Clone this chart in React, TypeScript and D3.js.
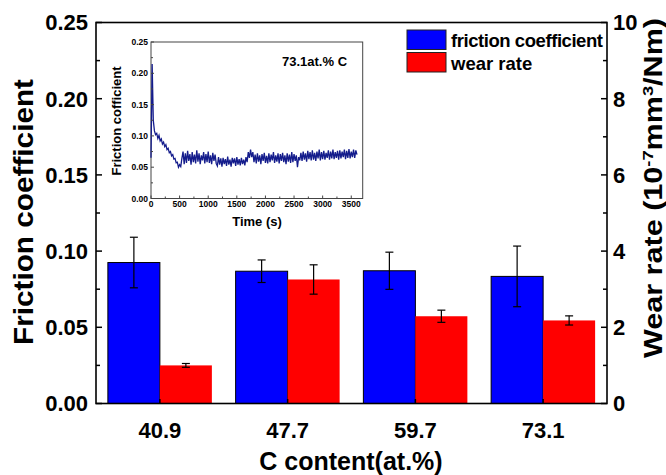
import React from "react";
import * as d3 from "d3";

// ---- Main chart data ----
const categories = ["40.9", "47.7", "59.7", "73.1"];
const frictionMean = [0.0925, 0.0868, 0.0871, 0.0834];
const frictionErr = [0.0166, 0.0074, 0.0122, 0.0199];
const wearMean = [1.0, 3.255, 2.29, 2.18];
const wearErr = [0.05, 0.385, 0.16, 0.12];
const leftTicks = [0, 0.05, 0.1, 0.15, 0.2, 0.25];
const rightTicks = [0, 2, 4, 6, 8, 10];
const legendLabels = ["friction coefficient", "wear rate"];

// ---- Inset data: friction trace of 73.1 at.% C, sampled every 20 s ----
const traceStep = 20;
const frictionTrace = [
  // 0 - 520 s
  0.065, 0.215, 0.125, 0.108, 0.102, 0.104, 0.096, 0.101, 0.092, 0.095,
  0.087, 0.090, 0.083, 0.086, 0.078, 0.080, 0.073, 0.075, 0.068, 0.070,
  0.063, 0.064, 0.057, 0.058, 0.050, 0.054, 0.051,
  // 540 - 1140 s
  0.064, 0.075, 0.055, 0.072, 0.057, 0.076, 0.060, 0.071, 0.054, 0.074,
  0.058, 0.070, 0.056, 0.077, 0.059, 0.072, 0.055, 0.069, 0.061, 0.074,
  0.056, 0.071, 0.058, 0.075, 0.057, 0.069, 0.055, 0.073, 0.060, 0.070,
  0.056,
  // 1160 - 1680 s
  0.052, 0.066, 0.054, 0.064, 0.051, 0.065, 0.055, 0.063, 0.052, 0.067,
  0.054, 0.062, 0.051, 0.065, 0.056, 0.064, 0.052, 0.066, 0.054, 0.063,
  0.053, 0.065, 0.055, 0.062, 0.053, 0.066, 0.058,
  // 1700 - 1780 s
  0.074, 0.065, 0.078, 0.066, 0.074,
  // 1800 - 2540 s
  0.058, 0.070, 0.056, 0.072, 0.059, 0.069, 0.055, 0.071, 0.060, 0.073,
  0.057, 0.068, 0.056, 0.072, 0.058, 0.070, 0.061, 0.074, 0.057, 0.069,
  0.059, 0.072, 0.056, 0.071, 0.060, 0.073, 0.058, 0.069, 0.055, 0.072,
  0.059, 0.070, 0.057, 0.074, 0.058, 0.071, 0.060, 0.069,
  // 2560 - 2580 s
  0.050, 0.066,
  // 2600 - 3600 s
  0.061, 0.073, 0.060, 0.075, 0.062, 0.072, 0.059, 0.076, 0.063, 0.074,
  0.061, 0.077, 0.062, 0.073, 0.060, 0.075, 0.064, 0.078, 0.061, 0.074,
  0.063, 0.076, 0.062, 0.073, 0.065, 0.077, 0.062, 0.075, 0.064, 0.078,
  0.063, 0.074, 0.065, 0.076, 0.062, 0.077, 0.064, 0.075, 0.066, 0.078,
  0.063, 0.076, 0.065, 0.079, 0.064, 0.075, 0.066, 0.078, 0.065, 0.077,
  0.070,
];
const insetXTicks = [0, 500, 1000, 1500, 2000, 2500, 3000, 3500];
const insetYTicks = [0, 0.05, 0.1, 0.15, 0.2, 0.25];

const FONT = "'Liberation Sans', Arial, sans-serif";

export default function App() {
  // main scales
  const x = d3.scaleLinear().domain([-0.5, 3.5]).range([96, 607]);
  const yL = d3.scaleLinear().domain([0, 0.25]).range([403.5, 22.5]);
  const yR = d3.scaleLinear().domain([0, 10]).range([403.5, 22.5]);
  const barW = x(0.407) - x(0);

  // inset scales
  const ix = d3.scaleLinear().domain([0, 3700]).range([151, 362.7]);
  const iy = d3.scaleLinear().domain([0, 0.25]).range([198.5, 42]);
  const line = d3
    .line<number>()
    .x((_, i) => ix(i * traceStep))
    .y((d) => iy(d));

  const leftMinor = d3.range(0.025, 0.25, 0.05);
  const rightMinor = d3.range(1, 10, 2);
  const insetXMinor = d3.range(250, 3700, 500);
  const insetYMinor = d3.range(0.025, 0.25, 0.05);

  return (
    <svg
      width={666}
      height={475}
      style={{ position: "absolute", left: 0, top: 0, background: "#fff" }}
      fontFamily={FONT}
      fontWeight="bold"
    >
      <rect x={0} y={0} width={666} height={475} fill="#fff" />

      {/* bars */}
      {categories.map((c, i) => (
        <g key={c}>
          <rect
            x={x(i) - barW}
            y={yL(frictionMean[i])}
            width={barW}
            height={yL(0) - yL(frictionMean[i])}
            fill="#0000ff"
            stroke="#000"
            strokeWidth={1}
          />
          <rect
            x={x(i)}
            y={yR(wearMean[i])}
            width={barW}
            height={yR(0) - yR(wearMean[i])}
            fill="#ff0000"
          />
        </g>
      ))}

      {/* error bars */}
      {categories.map((c, i) => {
        const cx1 = x(i) - barW / 2;
        const cx2 = x(i) + barW / 2;
        const t1 = yL(frictionMean[i] + frictionErr[i]);
        const b1 = yL(frictionMean[i] - frictionErr[i]);
        const t2 = yR(wearMean[i] + wearErr[i]);
        const b2 = yR(wearMean[i] - wearErr[i]);
        return (
          <g key={"e" + c} stroke="#000" strokeWidth={1.2}>
            <line x1={cx1} x2={cx1} y1={t1} y2={b1} />
            <line x1={cx1 - 4} x2={cx1 + 4} y1={t1} y2={t1} />
            <line x1={cx1 - 4} x2={cx1 + 4} y1={b1} y2={b1} />
            <line x1={cx2} x2={cx2} y1={t2} y2={b2} />
            <line x1={cx2 - 4} x2={cx2 + 4} y1={t2} y2={t2} />
            <line x1={cx2 - 4} x2={cx2 + 4} y1={b2} y2={b2} />
          </g>
        );
      })}

      {/* frame */}
      <rect
        x={96}
        y={22.5}
        width={607 - 96}
        height={403.5 - 22.5}
        fill="none"
        stroke="#000"
        strokeWidth={1.6}
      />

      {/* left axis ticks & labels */}
      {leftTicks.map((t) => (
        <g key={"l" + t}>
          <line x1={96} x2={102} y1={yL(t)} y2={yL(t)} stroke="#000" strokeWidth={1.5} />
          <text x={88} y={yL(t)} dy="0.36em" textAnchor="end" fontSize={22}>
            {t.toFixed(2)}
          </text>
        </g>
      ))}
      {leftMinor.map((t) => (
        <line key={"lm" + t} x1={96} x2={100} y1={yL(t)} y2={yL(t)} stroke="#000" strokeWidth={1.5} />
      ))}

      {/* right axis */}
      {rightTicks.map((t) => (
        <g key={"r" + t}>
          <line x1={607} x2={601} y1={yR(t)} y2={yR(t)} stroke="#000" strokeWidth={1.5} />
          <text x={613} y={yR(t)} dy="0.36em" textAnchor="start" fontSize={22}>
            {t}
          </text>
        </g>
      ))}
      {rightMinor.map((t) => (
        <line key={"rm" + t} x1={607} x2={603} y1={yR(t)} y2={yR(t)} stroke="#000" strokeWidth={1.5} />
      ))}

      {/* bottom axis */}
      {categories.map((c, i) => (
        <g key={"b" + c}>
          <line x1={x(i)} x2={x(i)} y1={403.5} y2={399} stroke="#000" strokeWidth={1.5} />
          <text x={x(i)} y={438} textAnchor="middle" fontSize={22}>
            {c}
          </text>
        </g>
      ))}

      {/* axis titles */}
      <text
        transform="translate(33,212) rotate(-90)"
        textAnchor="middle"
        fontSize={27}
        textLength={266}
        lengthAdjust="spacingAndGlyphs"
      >
        Friction coefficient
      </text>
      <text x={351} y={470} textAnchor="middle" fontSize={25}>
        C content(at.%)
      </text>
      <text
        transform="translate(662,188) rotate(-90)"
        textAnchor="middle"
        fontSize={25}
        textLength={340}
        lengthAdjust="spacingAndGlyphs"
      >
        Wear rate (10
        <tspan dy={-9} fontSize={15}>-7</tspan>
        <tspan dy={9}>mm</tspan>
        <tspan dy={-9} fontSize={15}>3</tspan>
        <tspan dy={9}>/Nm)</tspan>
      </text>

      {/* legend */}
      {legendLabels.map((l, i) => (
        <g key={l}>
          <rect
            x={407}
            y={30 + i * 22.5}
            width={39}
            height={19.5}
            fill={i === 0 ? "#0000ff" : "#ff0000"}
            stroke="#222"
            strokeWidth={1}
          />
          <text x={451} y={47 + i * 22.5} fontSize={18.5} textLength={i === 0 ? 152 : undefined}>
            {l}
          </text>
        </g>
      ))}

      {/* ---------- inset ---------- */}
      <rect x={151} y={42} width={362.7 - 151} height={198.5 - 42} fill="#fff" stroke="#444" strokeWidth={1} />
      <path d={line(frictionTrace) || ""} fill="none" stroke="#141c8c" strokeWidth={1.3} />
      {insetYTicks.map((t) => (
        <g key={"iy" + t}>
          <line x1={151} x2={154} y1={iy(t)} y2={iy(t)} stroke="#444" />
          <text x={148} y={iy(t)} dy="0.36em" textAnchor="end" fontSize={8.5}>
            {t.toFixed(2)}
          </text>
        </g>
      ))}
      {insetYMinor.map((t) => (
        <line key={"iym" + t} x1={151} x2={153} y1={iy(t)} y2={iy(t)} stroke="#444" />
      ))}
      {insetXTicks.map((t) => (
        <g key={"ix" + t}>
          <line x1={ix(t)} x2={ix(t)} y1={198.5} y2={195.5} stroke="#444" />
          <text x={ix(t)} y={207} textAnchor="middle" fontSize={8.5}>
            {t}
          </text>
        </g>
      ))}
      {insetXMinor.map((t) => (
        <line key={"ixm" + t} x1={ix(t)} x2={ix(t)} y1={198.5} y2={196.5} stroke="#444" />
      ))}
      <text transform="translate(121,121) rotate(-90)" textAnchor="middle" fontSize={13}>
        Friction cofficient
      </text>
      <text x={257} y={226} textAnchor="middle" fontSize={13}>
        Time (s)
      </text>
      <text x={282} y={66} fontSize={13}>
        73.1at.% C
      </text>
    </svg>
  );
}
